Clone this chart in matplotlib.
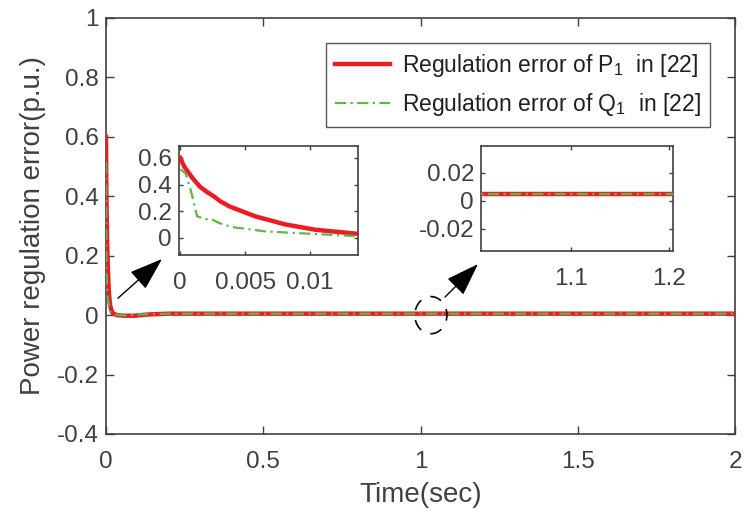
import matplotlib
matplotlib.use("Agg")
import matplotlib.pyplot as plt
from matplotlib.patches import Ellipse

plt.rcParams['font.family'] = ['Liberation Sans', 'DejaVu Sans']
plt.rcParams['mathtext.fontset'] = 'custom'
plt.rcParams['mathtext.rm'] = 'Liberation Sans'
plt.rcParams['mathtext.it'] = 'Liberation Sans:italic'
plt.rcParams['mathtext.default'] = 'regular'

# ---------------- data ----------------
red_t = [0, 0.0003, 0.00095, 0.0015, 0.002, 0.0026, 0.0031, 0.0038, 0.0058,
         0.0081, 0.0104, 0.0136, 0.02, 0.035, 0.06, 0.09, 0.13, 0.2, 2.0]
red_v = [0.60, 0.535, 0.448, 0.385, 0.348, 0.31, 0.273, 0.235, 0.16,
         0.10, 0.06, 0.03, 0.008, 0.0, -0.002, -0.002, 0.002, 0.005, 0.005]
green_t = [0, 0.0004, 0.0008, 0.0013, 0.002, 0.0025, 0.003, 0.004, 0.0066,
           0.0104, 0.0136, 0.02, 0.035, 0.06, 0.1, 0.2, 2.0]
green_v = [0.515, 0.485, 0.36, 0.16, 0.14, 0.135, 0.11, 0.08, 0.047,
           0.028, 0.012, 0.006, 0.001, -0.001, 0.002, 0.005, 0.005]

labels = ["Regulation error of P$_1$  in [22]", "Regulation error of Q$_1$  in [22]"]

main_xticks = [0, 0.5, 1, 1.5, 2]
main_xticklabels = ["0", "0.5", "1", "1.5", "2"]
main_yticks = [-0.4, -0.2, 0, 0.2, 0.4, 0.6, 0.8, 1]
main_yticklabels = ["-0.4", "-0.2", "0", "0.2", "0.4", "0.6", "0.8", "1"]
in1_xticks = [0, 0.005, 0.01]
in1_xticklabels = ["0", "0.005", "0.01"]
in1_yticks = [0, 0.2, 0.4, 0.6]
in1_yticklabels = ["0", "0.2", "0.4", "0.6"]
in2_xticks = [1.1, 1.2]
in2_xticklabels = ["1.1", "1.2"]
in2_yticks = [-0.02, 0, 0.02]
in2_yticklabels = ["-0.02", "0", "0.02"]

RED = '#EC1C24'
GREEN = '#5DB848'
GRAY = '#404040'
TICK_FS = 17.5
LEG_FS = 16.5
LABEL_FS = 20
dash = (0, (5, 2, 1, 2))

W, H = 746, 520
fig = plt.figure(figsize=(W / 100, H / 100), dpi=100)


def px_axes(l, t, r, b):
    return fig.add_axes([l / W, 1 - b / H, (r - l) / W, (b - t) / H])


def style(ax, ticklen=5):
    for s in ax.spines.values():
        s.set_color(GRAY)
        s.set_linewidth(1.2)
    ax.tick_params(direction='in', top=True, right=True, length=ticklen,
                   width=1.0, colors=GRAY, labelsize=TICK_FS, labelcolor=GRAY)
    ax.tick_params(axis='x', pad=12)
    ax.tick_params(axis='y', pad=5)


def draw(ax):
    ax.plot(red_t, red_v, color=RED, lw=3.2, label=labels[0], zorder=3,
            solid_joinstyle='round')
    ax.plot(green_t, green_v, color=GREEN, lw=1.6, linestyle=dash,
            label=labels[1], zorder=4)


# main axes
ax = px_axes(106, 18, 735, 434)
draw(ax)
ax.set_xlim(0, 2)
ax.set_ylim(-0.4, 1)
ax.set_xticks(main_xticks, main_xticklabels)
ax.set_yticks(main_yticks, main_yticklabels)
style(ax, 6)
ax.set_xlabel("Time(sec)", fontsize=LABEL_FS, color=GRAY, labelpad=7)
ax.set_ylabel("Power regulation error(p.u.)", fontsize=LABEL_FS, color=GRAY,
              labelpad=8)
leg = ax.legend(loc='upper right', bbox_to_anchor=(0.960, 0.9399),
                borderaxespad=0, fancybox=False, fontsize=LEG_FS,
                handlelength=2.4, handletextpad=0.5, labelspacing=0.5,
                borderpad=0.4, framealpha=1)
leg.get_frame().set_edgecolor('#555555')
leg.get_frame().set_linewidth(1.0)
for t in leg.get_texts():
    t.set_color('#202020')

# dashed circle and arrows
ax.add_patch(Ellipse((1.033, 0.0), 0.102, 0.125, fill=False, ec='k',
                     lw=1.2, linestyle=(0, (7, 6)), zorder=5))
arrow = dict(arrowstyle='-|>,head_length=1.1,head_width=0.38', color='k',
             lw=1.0, mutation_scale=19, shrinkA=0, shrinkB=0)
ax.annotate("", xy=(0.178, 0.189), xytext=(0.038, 0.057), arrowprops=arrow,
            zorder=6)
ax.annotate("", xy=(1.183, 0.172), xytext=(1.078, 0.061), arrowprops=arrow,
            zorder=6)

# inset 1
a1 = px_axes(179, 146, 358, 255)
draw(a1)
a1.set_xlim(-0.0001, 0.0137)
a1.set_ylim(-0.13, 0.69)
a1.set_xticks(in1_xticks, in1_xticklabels)
a1.set_yticks(in1_yticks, in1_yticklabels)
style(a1, 3)

# inset 2
a2 = px_axes(481, 146, 673, 251)
draw(a2)
a2.set_xlim(1.008, 1.204)
a2.set_ylim(-0.036, 0.039)
a2.set_xticks(in2_xticks, in2_xticklabels)
a2.set_yticks(in2_yticks, in2_yticklabels)
style(a2, 3)

fig.savefig("out.png", dpi=100)
